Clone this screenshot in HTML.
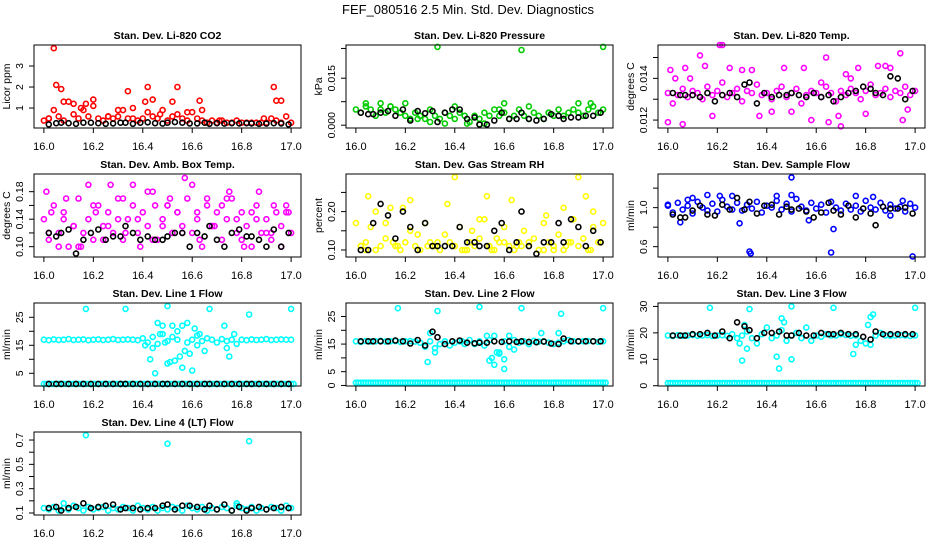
<!DOCTYPE html>
<html><head><meta charset="utf-8"><style>
html,body{margin:0;padding:0;background:#fff}
svg{display:block;font-family:"Liberation Sans",Arial,sans-serif}
</style></head><body>
<svg id="chart" width="936" height="540" viewBox="0 0 936 540" xmlns="http://www.w3.org/2000/svg">
<text x="468" y="14" text-anchor="middle" font-size="13">FEF_080516  2.5 Min. Std. Dev. Diagnostics</text>
</svg>
<script>
const tColor=[16.00,16.02,16.04,16.06,16.08,16.10,16.12,16.14,16.16,16.18,16.20,16.22,16.24,16.26,16.28,16.30,16.32,16.34,16.36,16.38,16.40,16.42,16.44,16.46,16.48,16.50,16.52,16.54,16.56,16.58,16.60,16.62,16.64,16.66,16.68,16.70,16.72,16.74,16.76,16.78,16.80,16.82,16.84,16.86,16.88,16.90,16.92,16.94,16.96,16.98,17.00];
const tBlack=[16.02,16.05,16.07,16.10,16.13,16.16,16.19,16.22,16.25,16.28,16.31,16.33,16.36,16.39,16.42,16.45,16.48,16.50,16.53,16.56,16.59,16.62,16.65,16.67,16.70,16.73,16.76,16.79,16.82,16.84,16.87,16.90,16.93,16.96,16.99];
const xTicks=[16.0,16.2,16.4,16.6,16.8,17.0];
const xTickLabels=["16.0","16.2","16.4","16.6","16.8","17.0"];

const co2Band=[0.4,0.5,0.9,0.6,0.4,1.3,0.7,0.5,0.9,0.6,1.1,0.5,0.4,0.6,0.5,0.6,0.9,0.5,0.5,0.4,0.5,0.8,0.6,0.5,0.9,0.4,0.6,0.7,0.5,0.4,0.8,0.5,0.4,0.3,0.4,0.3,0.4,0.3,0.3,0.4,0.3,0.3,0.3,0.3,0.3,0.3,0.5,0.4,0.3,0.6,0.3];
const co2ExtraT=[16.04,16.05,16.07,16.08,16.12,16.17,16.20,16.34,16.42,16.41,16.44,16.52,16.54,16.63,16.64,16.93,16.94,16.96,16.02,16.15,16.26,16.30,16.36,16.47,16.58,16.71,16.89];
const co2ExtraV=[3.85,2.1,1.9,1.3,1.2,1.2,1.4,1.8,2.0,1.3,1.4,1.3,2.0,1.35,0.9,2.0,1.35,1.35,0.5,1.0,0.6,0.9,1.0,0.7,0.8,0.4,0.5];
const co2Black=[0.22,0.28,0.3,0.28,0.25,0.3,0.3,0.28,0.25,0.27,0.3,0.3,0.25,0.3,0.32,0.28,0.26,0.3,0.33,0.3,0.27,0.27,0.3,0.25,0.28,0.26,0.28,0.27,0.28,0.27,0.25,0.26,0.28,0.27,0.22];

const presBand=[0.005,0.004,0.006,0.005,0.003,0.005,0.004,0.006,0.005,0.004,0.003,0.002,0.004,0.003,0.002,0.005,0.003,0.002,0.004,0.003,0.002,0.004,0.003,0.001,0.003,0.002,0.004,0.003,0.005,0.003,0.004,0.002,0.003,0.005,0.003,0.002,0.004,0.003,0.002,0.004,0.003,0.005,0.003,0.004,0.005,0.004,0.003,0.005,0.006,0.004,0.005];
const presExtraT=[16.33,16.67,17.0,16.04,16.10,16.20,16.25,16.30,16.36,16.45,16.50,16.52,16.60,16.70,16.78,16.90,16.95,16.14,16.40,16.58];
const presExtraV=[0.025,0.024,0.025,0.007,0.007,0.007,0.002,0.001,0.0005,0.0005,0.0003,0.0005,0.007,0.006,0.004,0.007,0.007,0.006,0.006,0.005];
const presBlack=[0.004,0.0035,0.0035,0.004,0.0045,0.003,0.005,0.0015,0.0045,0.0038,0.0045,0.001,0.004,0.005,0.005,0.002,0.0025,0.0002,0.0002,0.0015,0.004,0.002,0.002,0.004,0.002,0.0015,0.002,0.0035,0.003,0.002,0.0025,0.0025,0.003,0.003,0.004];

const tempBand=[0.0133,0.0128,0.0132,0.0135,0.0131,0.0134,0.0133,0.0130,0.0136,0.0132,0.0134,0.0138,0.0131,0.0133,0.0135,0.0129,0.0134,0.0133,0.0137,0.0132,0.0133,0.0130,0.0134,0.0136,0.0131,0.0133,0.0135,0.0128,0.0132,0.0134,0.0133,0.0131,0.0136,0.0133,0.0129,0.0134,0.0132,0.0135,0.0133,0.0130,0.0134,0.0137,0.0132,0.0133,0.0135,0.0131,0.0134,0.0133,0.0136,0.0132,0.0134];
const tempExtraT=[16.0,16.01,16.06,16.07,16.09,16.13,16.15,16.21,16.22,16.25,16.3,16.34,16.37,16.42,16.47,16.55,16.58,16.64,16.65,16.7,16.72,16.77,16.8,16.85,16.9,16.94,16.95,16.97,16.03,16.18,16.5,16.62,16.69,16.74,16.88];
const tempExtraV=[0.0119,0.0144,0.0118,0.0145,0.0140,0.0151,0.0146,0.0156,0.0156,0.0145,0.0144,0.0144,0.0122,0.0124,0.0145,0.0145,0.0120,0.0150,0.0119,0.0117,0.0142,0.0145,0.0123,0.0146,0.0145,0.0152,0.0120,0.0125,0.0140,0.0122,0.0124,0.0138,0.0122,0.0140,0.0146];
const tempBlack=[0.0133,0.0132,0.0132,0.0132,0.0131,0.0133,0.0129,0.0132,0.0133,0.0131,0.0137,0.0138,0.0128,0.0133,0.0131,0.0132,0.0132,0.0133,0.0132,0.0131,0.0133,0.0131,0.0132,0.0129,0.0131,0.0133,0.0134,0.0136,0.0135,0.0133,0.0132,0.0141,0.0140,0.0130,0.0134];

const ambBand=[0.14,0.11,0.16,0.12,0.15,0.10,0.13,0.17,0.12,0.14,0.11,0.16,0.13,0.15,0.12,0.17,0.11,0.14,0.16,0.12,0.15,0.13,0.18,0.11,0.14,0.16,0.12,0.15,0.13,0.17,0.12,0.14,0.10,0.16,0.13,0.15,0.11,0.14,0.17,0.12,0.15,0.13,0.10,0.16,0.12,0.14,0.11,0.15,0.13,0.16,0.12];
const ambExtraT=[16.01,16.03,16.06,16.09,16.12,16.15,16.18,16.21,16.24,16.27,16.30,16.33,16.36,16.39,16.42,16.45,16.48,16.51,16.54,16.57,16.60,16.63,16.66,16.69,16.72,16.75,16.78,16.81,16.84,16.87,16.90,16.93,16.96,16.99,16.02,16.08,16.14,16.20,16.26,16.32,16.38,16.44,16.50,16.56,16.62,16.68,16.74,16.80,16.86,16.92,16.98];
const ambExtraV=[0.18,0.15,0.10,0.17,0.13,0.10,0.19,0.15,0.11,0.19,0.14,0.12,0.19,0.10,0.18,0.16,0.13,0.17,0.15,0.20,0.19,0.11,0.17,0.13,0.16,0.18,0.14,0.10,0.15,0.18,0.12,0.16,0.10,0.15,0.12,0.14,0.10,0.16,0.13,0.17,0.14,0.11,0.16,0.12,0.15,0.13,0.17,0.11,0.14,0.12,0.15];
const ambBlack=[0.12,0.115,0.12,0.125,0.09,0.11,0.12,0.125,0.11,0.115,0.115,0.13,0.12,0.11,0.115,0.11,0.11,0.115,0.12,0.12,0.10,0.12,0.115,0.13,0.11,0.10,0.12,0.125,0.115,0.115,0.11,0.10,0.125,0.10,0.12];

const rhBand=[0.17,0.11,0.12,0.16,0.10,0.11,0.13,0.21,0.11,0.10,0.12,0.15,0.11,0.10,0.17,0.12,0.11,0.10,0.14,0.12,0.11,0.16,0.10,0.12,0.11,0.13,0.18,0.11,0.10,0.12,0.16,0.11,0.10,0.12,0.15,0.11,0.13,0.10,0.17,0.12,0.11,0.14,0.10,0.12,0.18,0.11,0.13,0.10,0.16,0.12,0.17];
const rhExtraT=[16.02,16.05,16.08,16.12,16.15,16.19,16.22,16.25,16.29,16.33,16.37,16.40,16.43,16.47,16.50,16.53,16.57,16.60,16.63,16.67,16.70,16.74,16.77,16.80,16.84,16.87,16.90,16.93,16.96,16.99,16.04,16.17,16.31,16.45,16.55,16.65,16.76,16.85,16.95];
const rhExtraV=[0.11,0.24,0.20,0.17,0.12,0.21,0.23,0.14,0.11,0.12,0.22,0.29,0.10,0.15,0.18,0.24,0.13,0.12,0.23,0.11,0.12,0.10,0.19,0.10,0.21,0.12,0.29,0.24,0.20,0.12,0.10,0.11,0.11,0.10,0.10,0.11,0.10,0.11,0.10];
const rhBlack=[0.10,0.10,0.17,0.22,0.19,0.13,0.20,0.16,0.10,0.17,0.11,0.11,0.11,0.11,0.16,0.12,0.12,0.11,0.11,0.15,0.17,0.10,0.12,0.20,0.11,0.09,0.12,0.12,0.17,0.12,0.18,0.16,0.11,0.15,0.12];

const flowBand=[1.03,0.95,1.05,0.98,1.02,0.94,1.06,1.0,0.97,1.04,0.96,1.08,1.01,0.98,1.05,0.97,1.03,0.99,1.06,0.95,1.02,1.0,1.07,0.98,1.04,0.96,1.09,1.01,0.97,1.05,0.99,1.03,0.95,1.06,1.0,0.97,1.04,0.98,1.02,0.96,1.07,1.0,0.98,1.05,0.97,1.03,0.99,1.01,0.96,1.04,1.0];
const flowExtraT=[16.0,16.05,16.1,16.16,16.26,16.33,16.335,16.44,16.5,16.5,16.66,16.67,16.76,16.83,16.99,16.29,16.21,16.57,16.08,16.9,16.95];
const flowExtraV=[1.02,0.85,1.1,1.13,1.12,0.55,0.53,1.12,1.31,1.13,0.54,0.78,1.12,1.11,0.5,0.84,1.12,0.87,1.08,0.92,1.07];
const flowBlack=[0.93,0.9,0.9,0.97,1.02,0.93,0.92,1.03,0.98,1.1,0.98,1.06,0.94,1.02,1.03,0.93,1.01,0.98,0.99,0.96,0.9,0.95,1.05,0.97,0.93,1.02,0.9,0.99,0.94,0.82,1.01,0.99,0.99,1.0,0.94];

const l1Band=[17,16.8,17.1,16.9,17,17.2,16.9,17,17.1,16.8,17,17.1,16.9,17,17.2,16.9,17,17.1,17,16.8,17.5,16,18,15.5,19,16.5,18,17,22,16,17,18.5,16.5,17.5,17,16,17.2,16.5,17,15.5,17,16.8,17.1,16.9,17,17.2,16.9,17,17.1,17,17];
const l1ExtraT=[16.17,16.33,16.5,16.67,16.83,17.0,16.43,16.44,16.45,16.46,16.47,16.48,16.5,16.51,16.52,16.53,16.54,16.55,16.56,16.57,16.58,16.59,16.6,16.61,16.63,16.65,16.73,16.74,16.75,16.77,16.41,16.49,16.62];
const l1ExtraV=[28,28,29,28,26,28,10,14,5,23,19,22,8.5,9,22,9.5,20,11,7,13,23,12,6,21,19,13,22,14,11,19,15,16,15];
const l1Low=[1.2,1.2,1.2,1.2,1.2,1.2,1.2,1.2,1.2,1.2,1.2,1.2,1.2,1.2,1.2,1.2,1.2,1.2,1.2,1.2,1.2,1.2,1.2,1.2,1.2,1.2,1.2,1.2,1.2,1.2,1.2,1.2,1.2,1.2,1.2,1.2,1.2,1.2,1.2,1.2,1.2,1.2,1.2,1.2,1.2,1.2,1.2,1.2,1.2,1.2,1.2];
const l1Black=[1.2,1.2,1.2,1.2,1.2,1.2,1.2,1.2,1.2,1.2,1.2,1.2,1.2,1.2,1.2,1.2,1.2,1.2,1.2,1.2,1.2,1.2,1.2,1.2,1.2,1.2,1.2,1.2,1.2,1.2,1.2,1.2,1.2,1.2,1.2];

const l2Band=[16,15.8,16.1,15.9,16,16.2,15.9,16,16.1,15.8,16,16.1,15.9,15.5,14,16,13.5,15,16,14.5,15.5,16,15,16.5,15,16,14.5,16.5,18,12,16,14,16.5,15.5,16,15,16.2,15.9,16,15.5,15,15.5,16,16.5,16,15.9,16,16.1,16,15.8,16];
const l2ExtraT=[16.17,16.33,16.5,16.67,16.83,17.0,16.29,16.32,16.3,16.54,16.55,16.56,16.57,16.58,16.6,16.6,16.62,16.75,16.82,16.43,16.64,16.53];
const l2ExtraV=[28,27,28.5,28,26,28,8.5,12,19,9,10,7.5,12,11.5,9.5,6,18,19,19,16,13,18];
const l2Low=[1,1,1,1,1,1,1,1,1,1,1,1,1,1,1,1,1,1,1,1,1,1,1,1,1,1,1,1,1,1,1,1,1,1,1,1,1,1,1,1,1,1,1,1,1,1,1,1,1,1,1];
const l2Black=[16,16,16,16,16,16.3,16,15.2,16.5,14.5,19.5,17.5,15,16,16.3,15.5,15.3,15.5,15.5,16,15.8,16,15.8,16,15.8,15.7,15.9,15.2,15,17,16,16,16,16,16];

const l3Band=[19,18.8,19.1,18.9,19,19.2,18.9,19,19.1,18.8,19,19.1,18.9,19.5,18,19,20.5,18,16,19.5,22,18,19,21,17,19,20,18,22,17,19,18.5,19.5,19,19,19.5,19.2,18.9,19,17,16,15.5,19,20,19,18.9,19,19.1,19,18.8,19];
const l3ExtraT=[16.17,16.33,16.5,16.67,16.83,17.0,16.3,16.29,16.32,16.44,16.45,16.46,16.47,16.5,16.75,16.81,16.82,16.31,16.76];
const l3ExtraV=[29.5,29,30,29.5,27,29.5,9.5,16,14,11,6.5,25.5,24,10,12,23,26,23,15.5];
const l3Low=[1,1,1,1,1,1,1,1,1,1,1,1,1,1,1,1,1,1,1,1,1,1,1,1,1,1,1,1,1,1,1,1,1,1,1,1,1,1,1,1,1,1,1,1,1,1,1,1,1,1,1];
const l3Black=[19,19,19,19.5,19.5,20,19,20.5,18,24,22.5,21,18,20,20,20.5,19,19,20,19,19,20,19.5,19.5,20,19.5,19.5,18.5,17.5,20.5,19.5,19.5,19.5,19.5,19.5];

const l4Band=[0.14,0.13,0.15,0.12,0.14,0.13,0.16,0.14,0.12,0.15,0.13,0.14,0.15,0.12,0.14,0.13,0.15,0.14,0.12,0.16,0.14,0.13,0.15,0.12,0.14,0.13,0.15,0.14,0.12,0.16,0.14,0.13,0.15,0.12,0.14,0.13,0.15,0.14,0.12,0.16,0.14,0.13,0.15,0.12,0.14,0.13,0.15,0.14,0.12,0.16,0.14];
const l4ExtraT=[16.17,16.5,16.83,16.08,16.78];
const l4ExtraV=[0.74,0.67,0.69,0.18,0.18];
const l4Black=[0.14,0.15,0.12,0.14,0.15,0.18,0.14,0.15,0.16,0.17,0.13,0.14,0.14,0.13,0.14,0.14,0.16,0.17,0.13,0.16,0.16,0.15,0.13,0.16,0.13,0.17,0.12,0.15,0.12,0.14,0.15,0.13,0.14,0.15,0.14];

const panels=[
 {id:"co2",col:0,row:0,title:"Stan. Dev. Li-820 CO2",ylab:"Licor ppm",ylim:[0.05,4.0],ticks:[1,2,3],labels:["1","2","3"],color:"#ff0000",band:co2Band,et:co2ExtraT,ev:co2ExtraV,black:co2Black},
 {id:"pressure",col:1,row:0,title:"Stan. Dev. Li-820 Pressure",ylab:"kPa",ylim:[-0.0009,0.0256],ticks:[0,0.0075,0.015,0.0245],labels:["0.000","","0.015",""],color:"#00cc00",band:presBand,et:presExtraT,ev:presExtraV,black:presBlack},
 {id:"temp",col:2,row:0,title:"Stan. Dev. Li-820 Temp.",ylab:"degrees C",ylim:[0.01162,0.0156],ticks:[0.012,0.013,0.014,0.015],labels:["0.012","","0.014",""],color:"#ff00ff",band:tempBand,et:tempExtraT,ev:tempExtraV,black:tempBlack},
 {id:"ambtemp",col:0,row:1,title:"Stan. Dev. Amb. Box Temp.",ylab:"degrees C",ylim:[0.085,0.2057],ticks:[0.10,0.12,0.14,0.16,0.18],labels:["0.10","","0.14","","0.18"],color:"#ff00ff",band:ambBand,et:ambExtraT,ev:ambExtraV,black:ambBlack},
 {id:"rh",col:1,row:1,title:"Stan. Dev. Gas Stream RH",ylab:"percent",ylim:[0.0817,0.298],ticks:[0.10,0.15,0.20,0.25],labels:["0.10","","0.20",""],color:"#ffff00",band:rhBand,et:rhExtraT,ev:rhExtraV,black:rhBlack},
 {id:"sampleflow",col:2,row:1,title:"Stan. Dev. Sample Flow",ylab:"ml/min",ylim:[0.494,1.345],ticks:[0.6,0.8,1.0,1.2],labels:["0.6","","1.0",""],color:"#0000ff",band:flowBand,et:flowExtraT,ev:flowExtraV,black:flowBlack},
 {id:"line1",col:0,row:2,title:"Stan. Dev. Line 1 Flow",ylab:"ml/min",ylim:[0.46,30.1],ticks:[5,10,15,20,25],labels:["5","","15","","25"],color:"#00ffff",band:l1Band,low:l1Low,et:l1ExtraT,ev:l1ExtraV,black:l1Black},
 {id:"line2",col:1,row:2,title:"Stan. Dev. Line 2 Flow",ylab:"ml/min",ylim:[-0.2,29.9],ticks:[0,5,10,15,20,25],labels:["0","5","","15","","25"],color:"#00ffff",band:l2Band,low:l2Low,et:l2ExtraT,ev:l2ExtraV,black:l2Black},
 {id:"line3",col:2,row:2,title:"Stan. Dev. Line 3 Flow",ylab:"ml/min",ylim:[-0.1,31.3],ticks:[0,10,20,30],labels:["0","10","20","30"],color:"#00ffff",band:l3Band,low:l3Low,et:l3ExtraT,ev:l3ExtraV,black:l3Black},
 {id:"line4",col:0,row:3,title:"Stan. Dev. Line 4 (LT) Flow",ylab:"ml/min",ylim:[0.0836,0.766],ticks:[0.1,0.2,0.3,0.4,0.5,0.6,0.7],labels:["0.1","","0.3","","0.5","","0.7"],color:"#00ffff",band:l4Band,et:l4ExtraT,ev:l4ExtraV,black:l4Black}
];

const NS="http://www.w3.org/2000/svg";
const svg=document.getElementById("chart");
const colX=[34,346,658], rowY=[45,174,303,432], BW=267, BH=83;
function mk(tag,attrs,parent){const e=document.createElementNS(NS,tag);for(const k in attrs)e.setAttribute(k,attrs[k]);parent.appendChild(e);return e;}

panels.forEach(p=>{
  const L=colX[p.col], T=rowY[p.row], R=L+BW, B=T+BH;
  const g=mk("g",{},svg);
  
  
  const xs=v=>L+(v-15.96)/(1.08)*BW;
  const ys=v=>B-(v-p.ylim[0])/(p.ylim[1]-p.ylim[0])*BH;
  const pts=mk("g",{fill:"none","stroke-width":"1.6"},g);
  
  
  function dot(x,y,c,nm){
    const c1=mk("circle",{cx:xs(x).toFixed(1),cy:ys(y).toFixed(1),r:"2.5",stroke:c},pts);
    
    
  }
  if(p.low){for(let i=0;i<Math.min(tColor.length,p.low.length);i++){dot(tColor[i],p.low[i],p.color,'low-point');dot(tColor[i]+0.01,p.low[i],p.color,'low-point');}}
  for(let i=0;i<Math.min(tColor.length,p.band.length);i++){dot(tColor[i],p.band[i],p.color,'series-point');}
  for(let i=0;i<Math.min(p.et.length,p.ev.length);i++){dot(p.et[i],p.ev[i],p.color,'series-point');}
  for(let i=0;i<Math.min(tBlack.length,p.black.length);i++){dot(tBlack[i],p.black[i],"#000",'black-point');}
  const box=mk("rect",{x:L,y:T,width:BW,height:BH,fill:"none",stroke:"#000","stroke-width":"1"},g);
  
  
  const t=mk("text",{x:L+BW/2,y:T-6,"text-anchor":"middle","font-size":"10.5","font-weight":"bold"},g);
  t.textContent=p.title;
  
  
  xTicks.forEach((v,i)=>{
    mk("line",{x1:xs(v),x2:xs(v),y1:B,y2:B+5,stroke:"#000"},g);
    const tl=mk("text",{x:xs(v),y:B+22,"text-anchor":"middle","font-size":"11"},g);
    tl.textContent=xTickLabels[i];
    
    
  });
  p.ticks.forEach((v,i)=>{
    mk("line",{x1:L-5,x2:L,y1:ys(v),y2:ys(v),stroke:"#000"},g);
    if(p.labels[i]){
      const yl=mk("text",{x:0,y:0,"text-anchor":"middle","font-size":"10.5",transform:`translate(${L-11},${ys(v)}) rotate(-90)`},g);
      yl.textContent=p.labels[i];
      
      
    }
  });
  const yt=mk("text",{x:0,y:0,"text-anchor":"middle","font-size":"10.5",transform:`translate(${L-24},${T+BH/2}) rotate(-90)`},g);
  yt.textContent=p.ylab;
  
  
});
</script>
</body></html>
